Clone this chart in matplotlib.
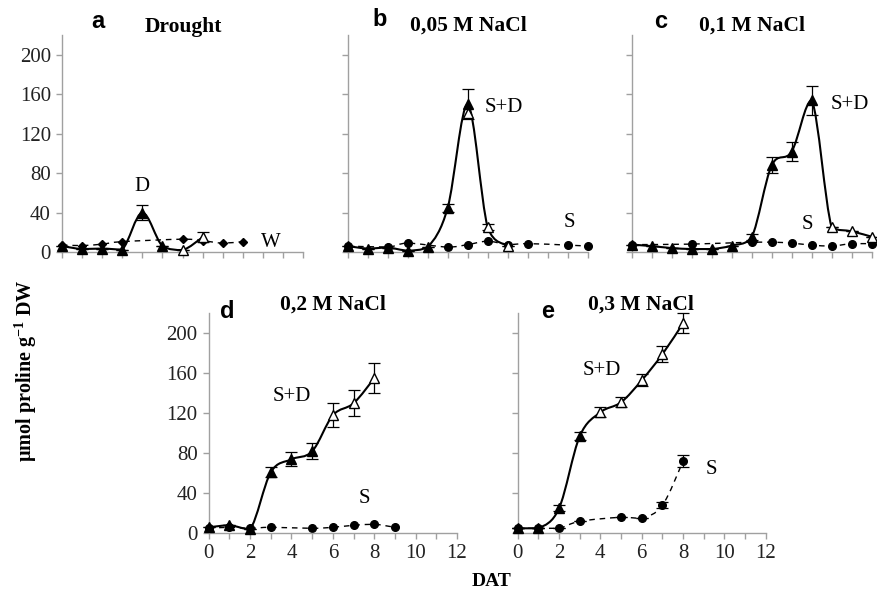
import numpy as np
import matplotlib
matplotlib.use('Agg')
import matplotlib.pyplot as plt
from matplotlib.path import Path
from matplotlib.patches import PathPatch
from matplotlib.ticker import MultipleLocator, NullFormatter

plt.rcParams['font.family'] = ['Liberation Serif', 'DejaVu Serif']
plt.rcParams['mathtext.fontset'] = 'custom'
plt.rcParams['mathtext.rm'] = 'Liberation Serif'
plt.rcParams['mathtext.default'] = 'regular'

# a: drought (D = triangles, W = diamonds)
a_sd_x = [0, 1, 2, 3, 4, 5, 6, 7]
a_sd_y = [6, 3, 3.5, 2.5, 40, 6, 2, 15]
a_sd_err = [0, 0, 0, 0, 8, 0, 0, 5]
a_sd_open = [0, 0, 0, 0, 0, 0, 1, 1]
a_s_x = [0, 1, 2, 3, 6, 7, 8, 9]
a_s_y = [7, 6.5, 8, 10.5, 13, 11.5, 9, 10.5]

# b: 0,05 M NaCl
b_sd_x = [0, 1, 2, 3, 4, 5, 6, 7, 8]
b_sd_y = [6, 3.5, 4.5, 1.5, 5, 45, 150, 25, 6.5]
b_sd_err = [0, 0, 0, 0, 0, 4, 15, 3, 0]
b_sd_open = [0, 0, 0, 0, 0, 0, 0, 1, 1]
b_extra_x = [6]
b_extra_y = [141]
b_s_x = [0, 2, 3, 5, 6, 7, 8, 9, 11, 12]
b_s_y = [6, 5, 9, 5, 7.5, 11, 7.5, 8.5, 7, 6]

# c: 0,1 M NaCl
c_sd_x = [0, 1, 2, 3, 4, 5, 6, 7, 8, 9, 10, 11, 12]
c_sd_y = [7.5, 6, 4, 3, 3, 6.5, 15, 88, 102, 154, 25, 21, 15.5]
c_sd_err = [0, 0, 0, 0, 0, 0, 3, 8, 10, 15, 0, 0, 0]
c_sd_open = [0, 0, 0, 0, 0, 0, 0, 0, 0, 0, 1, 1, 1]
c_s_x = [0, 3, 6, 7, 8, 9, 10, 11, 12]
c_s_y = [7.5, 8, 10, 10, 9, 7, 6, 8.5, 8.5]

# d: 0,2 M NaCl
d_sd_x = [0, 1, 2, 3, 4, 5, 6, 7, 8]
d_sd_y = [6, 8, 4, 61, 74, 82, 118, 130, 155]
d_sd_err = [0, 0, 0, 5, 7, 8, 12, 13, 15]
d_sd_open = [0, 0, 0, 0, 0, 0, 1, 1, 1]
d_s_x = [0, 1, 2, 3, 5, 6, 7, 8, 9]
d_s_y = [5, 6, 5, 6, 5, 6, 8, 9, 6]

# e: 0,3 M NaCl
e_sd_x = [0, 1, 2, 3, 4, 5, 6, 7, 8]
e_sd_y = [5, 5, 25, 97, 121, 131, 153, 179, 210]
e_sd_err = [0, 0, 3, 4, 5, 5, 6, 8, 10]
e_sd_open = [0, 0, 0, 0, 1, 1, 1, 1, 1]
e_s_x = [0, 1, 2, 3, 5, 6, 7, 8]
e_s_y = [5, 5, 5, 12, 16, 15, 28, 72]
e_s_err = [0, 0, 0, 0, 0, 0, 3, 6]

W, H = 877, 593
fig = plt.figure(figsize=(W / 100, H / 100), dpi=100)


def smooth_path(x, y):
    # excel-like smoothed line, control points kept inside each segment's y range
    p = np.column_stack([np.asarray(x, float), np.asarray(y, float)])
    ext = np.vstack([p[0], p, p[-1]])
    verts = [p[0]]
    codes = [Path.MOVETO]
    for i in range(len(p) - 1):
        p0, p1, p2, p3 = ext[i], ext[i + 1], ext[i + 2], ext[i + 3]
        c1 = p1 + (p2 - p0) / 6
        c2 = p2 - (p3 - p1) / 6
        lo, hi = min(p1[1], p2[1]), max(p1[1], p2[1])
        c1[1] = np.clip(c1[1], lo, hi)
        c2[1] = np.clip(c2[1], lo, hi)
        verts += [c1, c2, p2]
        codes += [Path.CURVE4] * 3
    return Path(verts, codes)


def make_ax(x0, y0, w, h, ylabels, xlabels):
    ax = fig.add_axes([x0 / W, 1 - y0 / H, w / W, h / H])
    ax.set_xlim(0, 12)
    ax.set_ylim(0, 220)
    for s in ['top', 'right']:
        ax.spines[s].set_visible(False)
    for s in ['left', 'bottom']:
        ax.spines[s].set_color('#a0a0a0')
        ax.spines[s].set_linewidth(1.0)
    ax.set_yticks([0, 40, 80, 120, 160, 200])
    ax.xaxis.set_major_locator(MultipleLocator(2))
    ax.xaxis.set_minor_locator(MultipleLocator(1))
    ax.tick_params(which='both', direction='out', length=4, width=1,
                   color='#a0a0a0', labelsize=15, labelcolor='#222222', pad=4)
    if not ylabels:
        ax.yaxis.set_major_formatter(NullFormatter())
    if not xlabels:
        ax.xaxis.set_major_formatter(NullFormatter())
    ax.patch.set_alpha(0)
    return ax


def draw(ax, sd_x, sd_y, sd_err, sd_open, s_x, s_y, s_err=None, s_marker='o', s_ms=5.5):
    ax.add_patch(PathPatch(smooth_path(s_x, s_y), fill=False, lw=1.0,
                           ls=(0, (4, 3.5)), color='black', clip_on=False))
    if s_err is not None:
        ax.errorbar(s_x, s_y, yerr=s_err, fmt='none', ecolor='black',
                    elinewidth=0.9, capsize=4, capthick=0.9, clip_on=False)
    ax.plot(s_x, s_y, ls='none', marker=s_marker, ms=s_ms, color='black', clip_on=False)
    ax.add_patch(PathPatch(smooth_path(sd_x, sd_y), fill=False, lw=1.5,
                           color='black', clip_on=False, zorder=3))
    ax.errorbar(sd_x, sd_y, yerr=sd_err, fmt='none', ecolor='black',
                elinewidth=0.9, capsize=4, capthick=0.9, clip_on=False, zorder=3)
    sx = np.array(sd_x)
    sy = np.array(sd_y)
    op = np.array(sd_open, bool)
    ax.plot(sx[~op], sy[~op], ls='none', marker='^', ms=7.5, color='black',
            clip_on=False, zorder=4)
    ax.plot(sx[op], sy[op], ls='none', marker='^', ms=7.5, mfc='white', mec='black',
            mew=1.0, clip_on=False, zorder=4)


lab = dict(fontsize=15)
letter = dict(fontsize=17, fontweight='bold', family=['Liberation Sans', 'DejaVu Sans'])
ttl = dict(fontsize=15.5, fontweight='bold')

# top row
ax_a = make_ax(62, 252, 241, 216.7, True, False)
draw(ax_a, a_sd_x, a_sd_y, a_sd_err, a_sd_open, a_s_x, a_s_y, s_marker='D', s_ms=4.5)
ax_a.text(4.0, 66, 'D', ha='center', va='center', **lab)
ax_a.text(10.4, 10, 'W', ha='center', va='center', **lab)

ax_b = make_ax(347.7, 252, 240, 216.7, False, False)
draw(ax_b, b_sd_x, b_sd_y, b_sd_err, b_sd_open, b_s_x, b_s_y)
ax_b.plot(b_extra_x, b_extra_y, ls='none', marker='^', ms=7.5, mfc='white', mec='black',
          mew=1.0, zorder=3.5)
ax_b.text(7.8, 147, 'S+D', ha='center', va='center', **lab)
ax_b.text(11.1, 30, 'S', ha='center', va='center', **lab)

ax_c = make_ax(631.7, 252, 240, 216.7, False, False)
draw(ax_c, c_sd_x, c_sd_y, c_sd_err, c_sd_open, c_s_x, c_s_y)
ax_c.text(10.9, 150, 'S+D', ha='center', va='center', **lab)
ax_c.text(8.8, 28, 'S', ha='center', va='center', **lab)

# bottom row
ax_d = make_ax(208.7, 533.3, 248.3, 220, True, True)
draw(ax_d, d_sd_x, d_sd_y, d_sd_err, d_sd_open, d_s_x, d_s_y)
ax_d.text(4.0, 137, 'S+D', ha='center', va='center', **lab)
ax_d.text(7.5, 35, 'S', ha='center', va='center', **lab)

ax_e = make_ax(517.7, 533.3, 248, 220, False, True)
draw(ax_e, e_sd_x, e_sd_y, e_sd_err, e_sd_open, e_s_x, e_s_y, s_err=e_s_err)
ax_e.text(4.07, 163, 'S+D', ha='center', va='center', **lab)
ax_e.text(9.35, 64, 'S', ha='center', va='center', **lab)

# panel letters and titles
fig.text(98 / W, 1 - 21 / H, 'a', ha='center', va='center', **letter)
fig.text(183 / W, 1 - 32 / H, 'Drought', ha='center', va='baseline', **ttl)
fig.text(380 / W, 1 - 19 / H, 'b', ha='center', va='center', **letter)
fig.text(468 / W, 1 - 31 / H, '0,05 M NaCl', ha='center', va='baseline', **ttl)
fig.text(661 / W, 1 - 22 / H, 'c', ha='center', va='center', **letter)
fig.text(752 / W, 1 - 31 / H, '0,1 M NaCl', ha='center', va='baseline', **ttl)
fig.text(227 / W, 1 - 311 / H, 'd', ha='center', va='center', **letter)
fig.text(333 / W, 1 - 310 / H, '0,2 M NaCl', ha='center', va='baseline', **ttl)
fig.text(548 / W, 1 - 312 / H, 'e', ha='center', va='center', **letter)
fig.text(641 / W, 1 - 310 / H, '0,3 M NaCl', ha='center', va='baseline', **ttl)

fig.text(26 / W, 1 - 371 / H, r'µmol proline g$^{-1}$ DW', rotation=90,
         ha='center', va='center', fontsize=14.5, fontweight='bold')
fig.text(492 / W, 1 - 582 / H, 'DAT', ha='center', va='center', fontsize=14,
         fontweight='bold')

fig.savefig('out.png', dpi=100)
